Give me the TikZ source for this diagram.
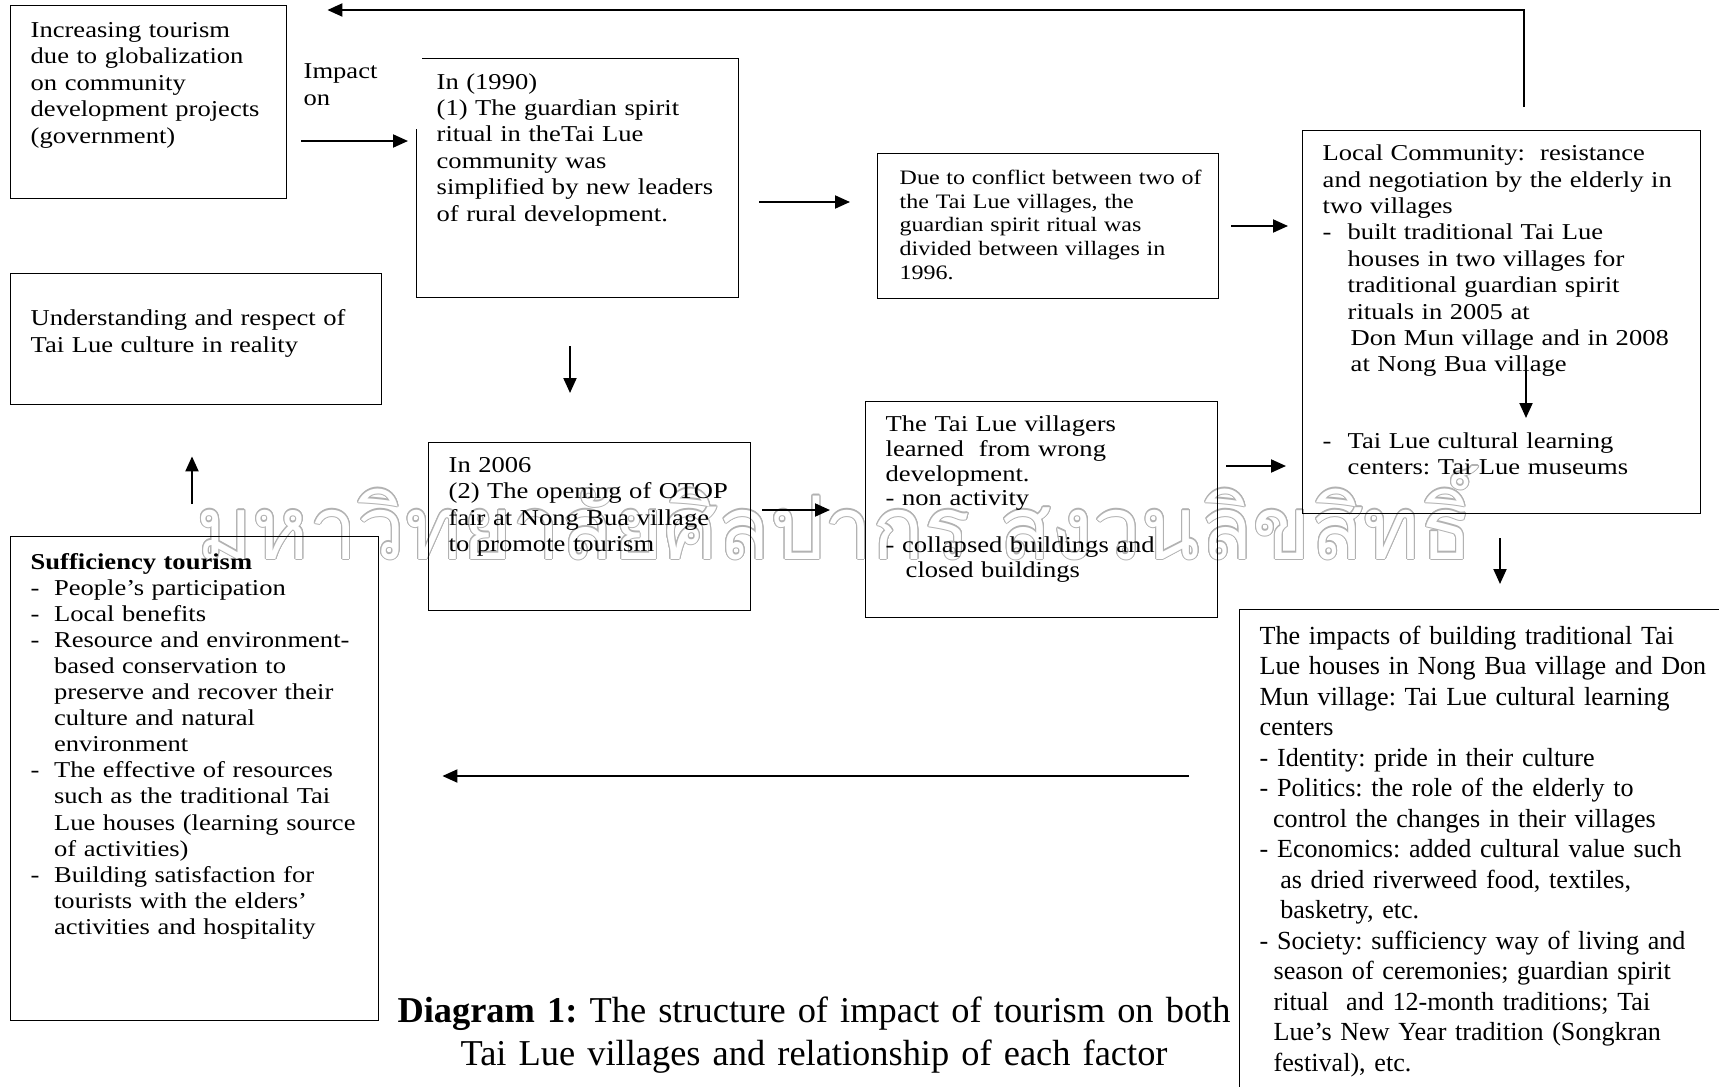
\documentclass[tikz,border=0pt]{standalone}
\usepackage{fontspec}
\setmainfont{Liberation Serif}
\newfontfamily\wideserif{Liberation Serif}[FakeStretch=1.17]
\newfontfamily\thaifont[Script=Thai]{Loma}
\usepackage{graphicx}
\usepackage{contour}
\contourlength{0.7pt}
\contournumber{16}
\usetikzlibrary{arrows.meta}
\frenchspacing

\begin{document}
\begin{tikzpicture}[x=0.5pt,y=-0.5pt,
box/.style={draw,line width=0.7pt,anchor=north west,align=left,inner xsep=10pt,inner ysep=0pt,
  font=\wideserif\fontsize{11.35pt}{13.2pt}\selectfont,
  execute at begin node={\rightskip=-40pt plus 1fil}},
arr/.style={line width=1pt,-{Triangle[length=7.5pt,width=6.5pt]}}]
\useasboundingbox (0,0) rectangle (1719,1087);

% watermark
\node[anchor=base west, inner sep=0pt] (wmark) at (196,559) {\resizebox{638pt}{46.5pt}{\textcolor{white}{\contour{black!30}{\thaifont\fontsize{60pt}{60pt}\selectfont มหาวิทยาลัยศิลปากร สงวนลิขสิทธิ์}}}};

% boxes
\node[box, text width=118pt, text height=15.85pt, text depth=80.65pt] (tourism) at (10,5) {Increasing tourism\\due to globalization\\on community\\development projects\\(government)};
\node[box, text width=141pt, text height=15.15pt, text depth=104.35pt] (ritual) at (416,58) {In (1990)\\(1) The guardian spirit\\ritual in theTai Lue\\community was\\simplified by new leaders\\of rural development.};
\node[box, draw=none, fill=white, inner xsep=4pt, text width=55pt, text height=14pt, text depth=25pt] (impacton) at (295,50) {Impact\\on};
\node[box, font=\wideserif\fontsize{10.25pt}{11.8pt}\selectfont, inner xsep=11pt, text width=148.5pt, text height=15.5pt, text depth=57pt] (conflict) at (877,153) {Due to conflict between two of\\the Tai Lue villages, the\\guardian spirit ritual was\\divided between villages in\\1996.};
\node[box, text width=179pt, text height=15pt, text depth=176.5pt] (local) at (1302,130) {Local Community:~ resistance\\and negotiation by the elderly in\\two villages\\\makebox[12.5pt][l]{-}built traditional Tai Lue\\\hspace*{12.5pt}houses in two villages for\\\hspace*{12.5pt}traditional guardian spirit\\\hspace*{12.5pt}rituals in 2005 at\\\hspace*{14pt}Don Mun village and in 2008\\\hspace*{14pt}at Nong Bua village\\[25pt]\makebox[12.5pt][l]{-}Tai Lue cultural learning\\\hspace*{12.5pt}centers: Tai Lue museums};
\node[box, text width=165.5pt, text height=26pt, text depth=39.5pt] (respect) at (10,273) {Understanding and respect of\\Tai Lue culture in reality};
\node[box, text width=141pt, text height=14.85pt, text depth=69.15pt] (otop) at (428,442) {In 2006\\(2) The opening of OTOP\\fair at Nong Bua village\\to promote tourism};
\node[box, font=\wideserif\fontsize{11.35pt}{12.35pt}\selectfont, text width=156pt, text height=15pt, text depth=93pt] (learned) at (865,401) {The Tai Lue villagers\\learned~ from wrong\\development.\\- non activity\\[11pt]- collapsed buildings and\\\hspace*{10pt}closed buildings};
\node[box, font=\wideserif\fontsize{11.35pt}{13.05pt}\selectfont, text width=164pt, text height=16.15pt, text depth=225.85pt] (sufficiency) at (10,536) {\textbf{Sufficiency tourism}\\\makebox[11.7pt][l]{-}People’s participation\\\makebox[11.7pt][l]{-}Local benefits\\\makebox[11.7pt][l]{-}Resource and environment-\\\hspace*{11.7pt}based conservation to\\\hspace*{11.7pt}preserve and recover their\\\hspace*{11.7pt}culture and natural\\\hspace*{11.7pt}environment\\\makebox[11.7pt][l]{-}The effective of resources\\\hspace*{11.7pt}such as the traditional Tai\\\hspace*{11.7pt}Lue houses (learning source\\\hspace*{11.7pt}of activities)\\\makebox[11.7pt][l]{-}Building satisfaction for\\\hspace*{11.7pt}tourists with the elders’\\\hspace*{11.7pt}activities and hospitality};
\node[box, font=\fontsize{13.05pt}{15.25pt}\selectfont, text width=240pt, text height=17.15pt, text depth=228.35pt] (impacts) at (1239,609) {The impacts of building traditional Tai\\Lue houses in Nong Bua village and Don\\Mun village: Tai Lue cultural learning\\centers\\- Identity: pride in their culture\\- Politics: the role of the elderly to\\\hspace*{6.7pt}control the changes in their villages\\- Economics: added cultural value such\\\hspace*{10.3pt}as dried riverweed food, textiles,\\\hspace*{10.3pt}basketry, etc.\\- Society: sufficiency way of living and\\\hspace*{7pt}season of ceremonies; guardian spirit\\\hspace*{7pt}ritual~ and 12-month traditions; Tai\\\hspace*{7pt}Lue’s New Year tradition (Songkran\\\hspace*{7pt}festival), etc.};

% caption
\node[anchor=base, inner sep=0pt, text width=450pt, align=center, font=\fontsize{18.2pt}{21.75pt}\selectfont] (diag) at (814,1022) {\textbf{Diagram 1:} The structure of impact of tourism on both\\Tai Lue villages and relationship of each factor};

% arrows
\draw[arr, shorten <=7pt, shorten >=4pt] (tourism.east |- 0,141) -- (ritual.west |- 0,141);
\draw[arr, shorten <=10pt, shorten >=13.5pt] (ritual.east |- 0,202) -- (conflict.west |- 0,202);
\draw[arr, shorten <=6pt, shorten >=7pt] (conflict.east |- 0,226) -- (local.west |- 0,226);
\draw[arr, shorten <=24pt, shorten >=24.5pt] (570,0 |- ritual.south) -- (570,0 |- otop.north);
\draw[arr, shorten <=5.5pt, shorten >=17.5pt] (otop.east |- 0,510) -- (learned.west |- 0,510);
\draw[arr, shorten <=4pt, shorten >=8pt] (learned.east |- 0,466) -- (local.west |- 0,466);
\draw[arr, shorten <=12pt, shorten >=12.5pt] (1500,0 |- local.south) -- (1500,0 |- impacts.north);
\draw[arr, shorten <=25pt, shorten >=31.5pt] (impacts.west |- 0,776) -- (sufficiency.east |- 0,776);
\draw[arr, shorten <=16pt, shorten >=25.5pt] (192,0 |- sufficiency.north) -- (192,0 |- respect.south);
\draw[arr, shorten <=11.5pt, shorten >=20pt] (1524,0 |- local.north) |- (tourism.east |- 0,10);
\coordinate (lc1) at (1526,369);
\coordinate (lc2) at (1526,418);
\draw[arr] (lc1) -- (lc2);
\end{tikzpicture}
\end{document}
